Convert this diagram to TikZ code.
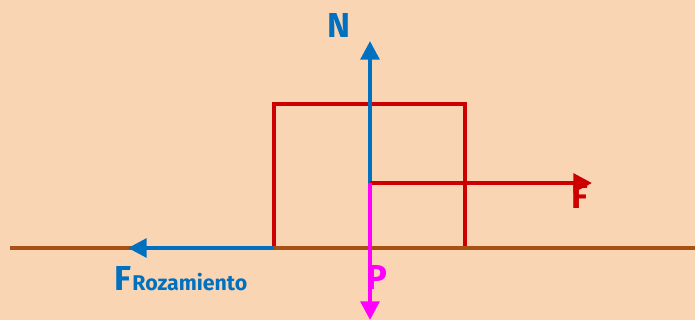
\documentclass[tikz,border=0pt]{standalone}
\usepackage{fontspec}
\setmainfont{Fira Sans}
\usepackage{tikz}
\usetikzlibrary{arrows.meta, positioning, calc}

\definecolor{fondo}{RGB}{250,213,180}
\definecolor{suelo}{RGB}{165,82,20}
\definecolor{rojo}{RGB}{204,0,0}
\definecolor{azul}{RGB}{0,112,192}
\definecolor{rosa}{RGB}{255,0,255}

\begin{document}
\begin{tikzpicture}[
    x=0.75pt, y=-0.75pt,
    box/.style={draw=rojo, line width=3pt},
    ground/.style={draw=suelo, line width=3pt},
    force/.style={line width=3pt, -{Triangle[length=14pt, width=14pt]}},
    lbl/.style={font=\bfseries\fontsize{26}{26}\selectfont, inner sep=0pt}
]
\fill[fondo] (0,0) rectangle (695,320);
\useasboundingbox (0,0) rectangle (695,320);

\coordinate (O)  at (370,183);
\coordinate (ci) at (274,248);
\coordinate (s1) at (10,248);
\coordinate (s2) at (695,248);

\draw[box] (274,248) |- (465,104) -- (465,248);
\draw[ground] (s1) -- (s2);

\coordinate (Ntip) at (370,41);
\coordinate (Ftip) at (592,183);
\coordinate (Ptip) at (370,320);
\coordinate (Rtip) at (128,248);

\node[lbl, text=azul] (N)  at (339,25)  {N};
\node[lbl, text=rojo] (F)  at (580,196) {F};
\node[lbl, text=rosa] (P)  at (377,277) {P};
\node[lbl, text=azul, anchor=base west] (FR) at (114,290)
    {F\kern1pt{\fontsize{16}{16}\selectfont Rozamiento}};

\draw[force, draw=azul, fill=azul] (O) -- (Ntip);
\draw[force, draw=rojo, fill=rojo] (O) -- (Ftip);
\draw[force, draw=rosa, fill=rosa] (O) -- (Ptip);
\draw[force, draw=azul, fill=azul] (ci) -- (Rtip);
\end{tikzpicture}
\end{document}
